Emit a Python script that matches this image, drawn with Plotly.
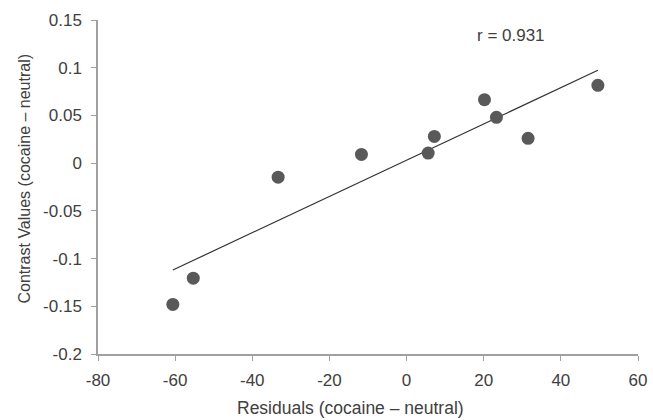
import numpy as np
import plotly.graph_objects as go

residuals = [-60.6, -55.3, -33.3, -11.7, 5.6, 7.2, 20.2, 23.3, 31.5, 49.6]
contrast = [-0.148, -0.1205, -0.0147, 0.0091, 0.0105, 0.028, 0.0665, 0.048, 0.026, 0.0815]
x_ticks = [-80, -60, -40, -20, 0, 20, 40, 60]
x_tick_labels = ["-80", "-60", "-40", "-20", "0", "20", "40", "60"]
y_ticks = [-0.2, -0.15, -0.1, -0.05, 0, 0.05, 0.1, 0.15]
y_tick_labels = ["-0.2", "-0.15", "-0.1", "-0.05", "0", "0.05", "0.1", "0.15"]
x_title = "Residuals (cocaine – neutral)"
y_title = "Contrast Values (cocaine – neutral)"
r_label = "r = 0.931"

slope, intercept = np.polyfit(residuals, contrast, 1)
xl = np.array([min(residuals), max(residuals)])
yl = slope * xl + intercept

font = dict(family="Liberation Sans, Arial, sans-serif", size=17, color="#404040")

fig = go.Figure()
fig.add_trace(go.Scatter(x=xl, y=yl, mode="lines", line=dict(color="#333333", width=1.2),
                         showlegend=False, hoverinfo="skip"))
fig.add_trace(go.Scatter(x=residuals, y=contrast, mode="markers",
                         marker=dict(size=13, color="#595959"), showlegend=False))

fig.add_annotation(x=27.2, y=0.134, text=r_label, showarrow=False, font=font)
fig.add_annotation(xref="paper", yref="paper", x=0.4667, y=-0.1617, text=x_title,
                   showarrow=False, xanchor="center", yanchor="middle",
                   font=dict(font, size=17.5))
fig.add_annotation(xref="paper", yref="paper", x=-0.137, y=0.5254, text=y_title,
                   showarrow=False, xanchor="center", yanchor="middle", textangle=-90,
                   font=dict(font, size=16))

axis_common = dict(showgrid=False, zeroline=False, showline=True, linecolor="#a0a0a0",
                   linewidth=1.5, ticks="outside", tickcolor="#a0a0a0", ticklen=5,
                   tickwidth=1, tickfont=font, mirror=False, automargin=False)

fig.update_xaxes(range=[-80, 60], tickvals=x_ticks, ticktext=x_tick_labels, ticklabelstandoff=5,
                 **axis_common)
fig.update_yaxes(range=[-0.2, 0.15], tickvals=y_ticks, ticktext=y_tick_labels, ticklabelstandoff=6,
                 **axis_common)

fig.update_layout(width=653, height=420, margin=dict(l=98, r=15, t=20, b=66),
                  plot_bgcolor="white", paper_bgcolor="white", font=font)

fig.write_html("out.html", config={"displayModeBar": False},
               post_script="document.body.style.margin='0';")
